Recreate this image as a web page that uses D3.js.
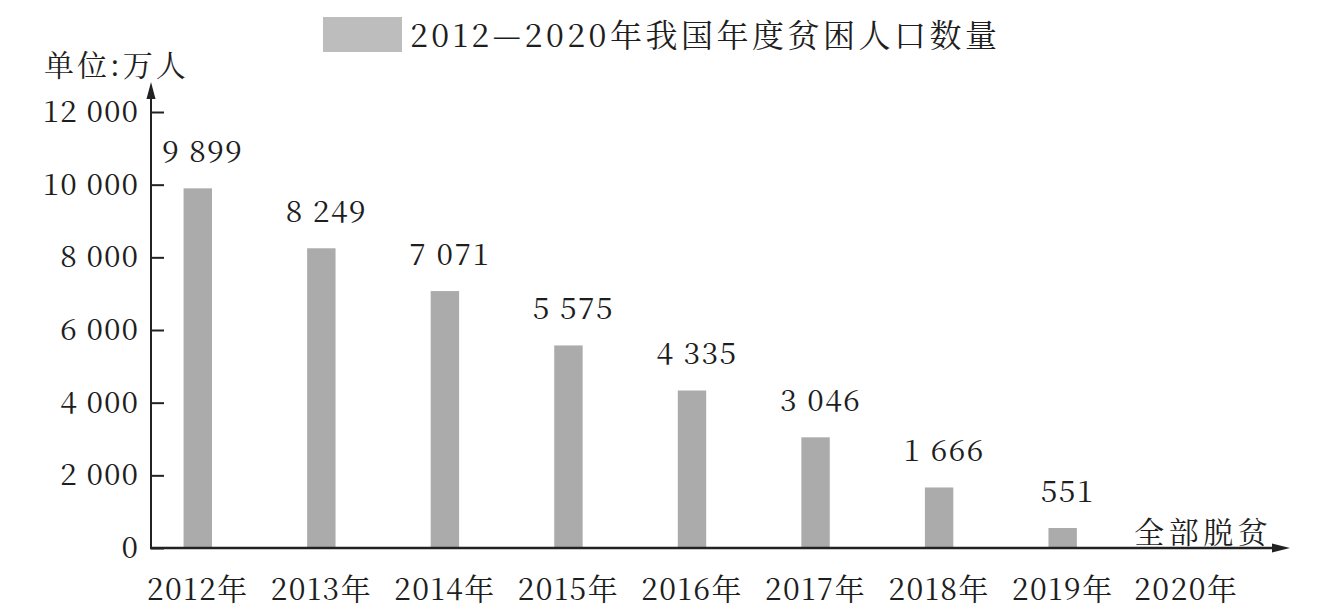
<!DOCTYPE html>
<html>
<head>
<meta charset="utf-8">
<script src="https://cdn.jsdelivr.net/npm/d3@7"></script>
<style>
  html, body { margin: 0; padding: 0; background: #fff; }
  svg { display: block; }
</style>
</head>
<body>
<svg id="chart" width="1327" height="615"></svg>
<script>
var years = ['2012', '2013', '2014', '2015', '2016', '2017', '2018', '2019', '2020']
  , poor = [9899, 8249, 7071, 5575, 4335, 3046, 1666, 551, 0]
  , yTicks = [0, 2000, 4000, 6000, 8000, 10000, 12000]
  , title = '2012—2020年我国年度贫困人口数量'
  , unitLabel = '单位:万人'
  , doneLabel = '全部脱贫'
  , yearSuffix = '年'

var X0 = 151
  , BAR = '#ababab'
  , INK = '#222'
  , TEXT = '#1e1e1e'
  , FONT = "'Noto Serif CJK SC'"

var fmt = d3.formatLocale({decimal: '.', thousands: ' ', grouping: [3], currency: ['', '']}).format(',d')

var svg = d3.select('#chart')

var rows = years.map(function(year, i) {
  return {year: year, value: poor[i]}
})

var x = d3.scaleBand()
  .domain(years)
  .range([136, 1248])
  .paddingInner(0.77)
  .paddingOuter(0.385)

var y = d3.scaleLinear()
  .domain([0, 12000])
  .range([548, 112])

drawLegend()
drawBars()
drawAxes()

// one family only: the renderer does not walk a fallback list
svg.selectAll('text')
  .style('font-family', FONT)
  .style('fill', TEXT)

function drawLegend() {
  svg.append('rect')
    .attr('x', 323)
    .attr('y', 17)
    .attr('width', 79)
    .attr('height', 35)
    .attr('fill', '#bdbdbd')

  svg.append('text')
    .attr('x', 410)
    .attr('y', 47)
    .attr('font-size', 32)
    .attr('letter-spacing', 3.5)
    .text(title)

  svg.append('text')
    .attr('x', 44)
    .attr('y', 76)
    .attr('font-size', 30)
    .attr('letter-spacing', 3)
    .text(unitLabel)
}

function drawBars() {
  var shown = rows.filter(function(d) { return d.value > 0 })

  svg.append('g')
    .selectAll('rect')
    .data(shown)
    .enter()
      .append('rect')
      .attr('x', function(d) { return x(d.year) })
      .attr('y', function(d) { return y(d.value) })
      .attr('width', x.bandwidth())
      .attr('height', function(d) { return y(0) - y(d.value) })
      .attr('fill', BAR)

  svg.append('g')
    .selectAll('text')
    .data(shown)
    .enter()
      .append('text')
      .attr('x', function(d) { return x(d.year) + x.bandwidth() / 2 + 5 })
      .attr('y', function(d) { return y(d.value) - 26 })
      .attr('text-anchor', 'middle')
      .attr('font-size', 30)
      .attr('letter-spacing', 1.5)
      .text(function(d) { return fmt(d.value) })

  // the last year has no bar, only the note over the axis
  svg.append('text')
    .attr('x', x('2020') + x.bandwidth() / 2 + 17)
    .attr('y', y(0) - 5)
    .attr('text-anchor', 'middle')
    .attr('font-size', 30)
    .attr('letter-spacing', 4.5)
    .text(doneLabel)
}

function drawAxes() {
  var yAxis = d3.axisLeft(y)
    .tickValues(yTicks)
    .tickSizeInner(-13)
    .tickSizeOuter(0)
    .tickPadding(12)
    .tickFormat(fmt)

  var gy = svg.append('g')
    .attr('transform', 'translate(' + X0 + ',0)')
    .call(yAxis)

  gy.select('.domain').remove()
  gy.selectAll('.tick line').attr('stroke', INK).attr('stroke-width', 2)
  gy.selectAll('.tick text')
    .attr('font-size', 30)
    .attr('letter-spacing', 1)

  var xAxis = d3.axisBottom(x)
    .tickSize(0)
    .tickPadding(31)
    .tickFormat(function(d) { return d + yearSuffix })

  var gx = svg.append('g')
    .attr('transform', 'translate(0,' + y(0) + ')')
    .call(xAxis)

  gx.select('.domain').remove()
  gx.selectAll('.tick text')
    .attr('font-size', 30)
    .attr('letter-spacing', 1.5)

  // axis lines with arrow heads
  svg.append('line')
    .attr('x1', X0).attr('y1', y(0))
    .attr('x2', X0).attr('y2', 90)
    .attr('stroke', INK).attr('stroke-width', 2)

  svg.append('path')
    .attr('d', 'M' + X0 + ',82L' + (X0 - 4.5) + ',99L' + (X0 + 4.5) + ',99Z')
    .attr('fill', INK)

  svg.append('line')
    .attr('x1', X0 - 1).attr('y1', y(0))
    .attr('x2', 1280).attr('y2', y(0))
    .attr('stroke', INK).attr('stroke-width', 2.5)

  svg.append('path')
    .attr('d', 'M1290,' + y(0) + 'L1272,' + (y(0) - 4.5) + 'L1272,' + (y(0) + 4.5) + 'Z')
    .attr('fill', INK)
}
</script>
</body>
</html>
